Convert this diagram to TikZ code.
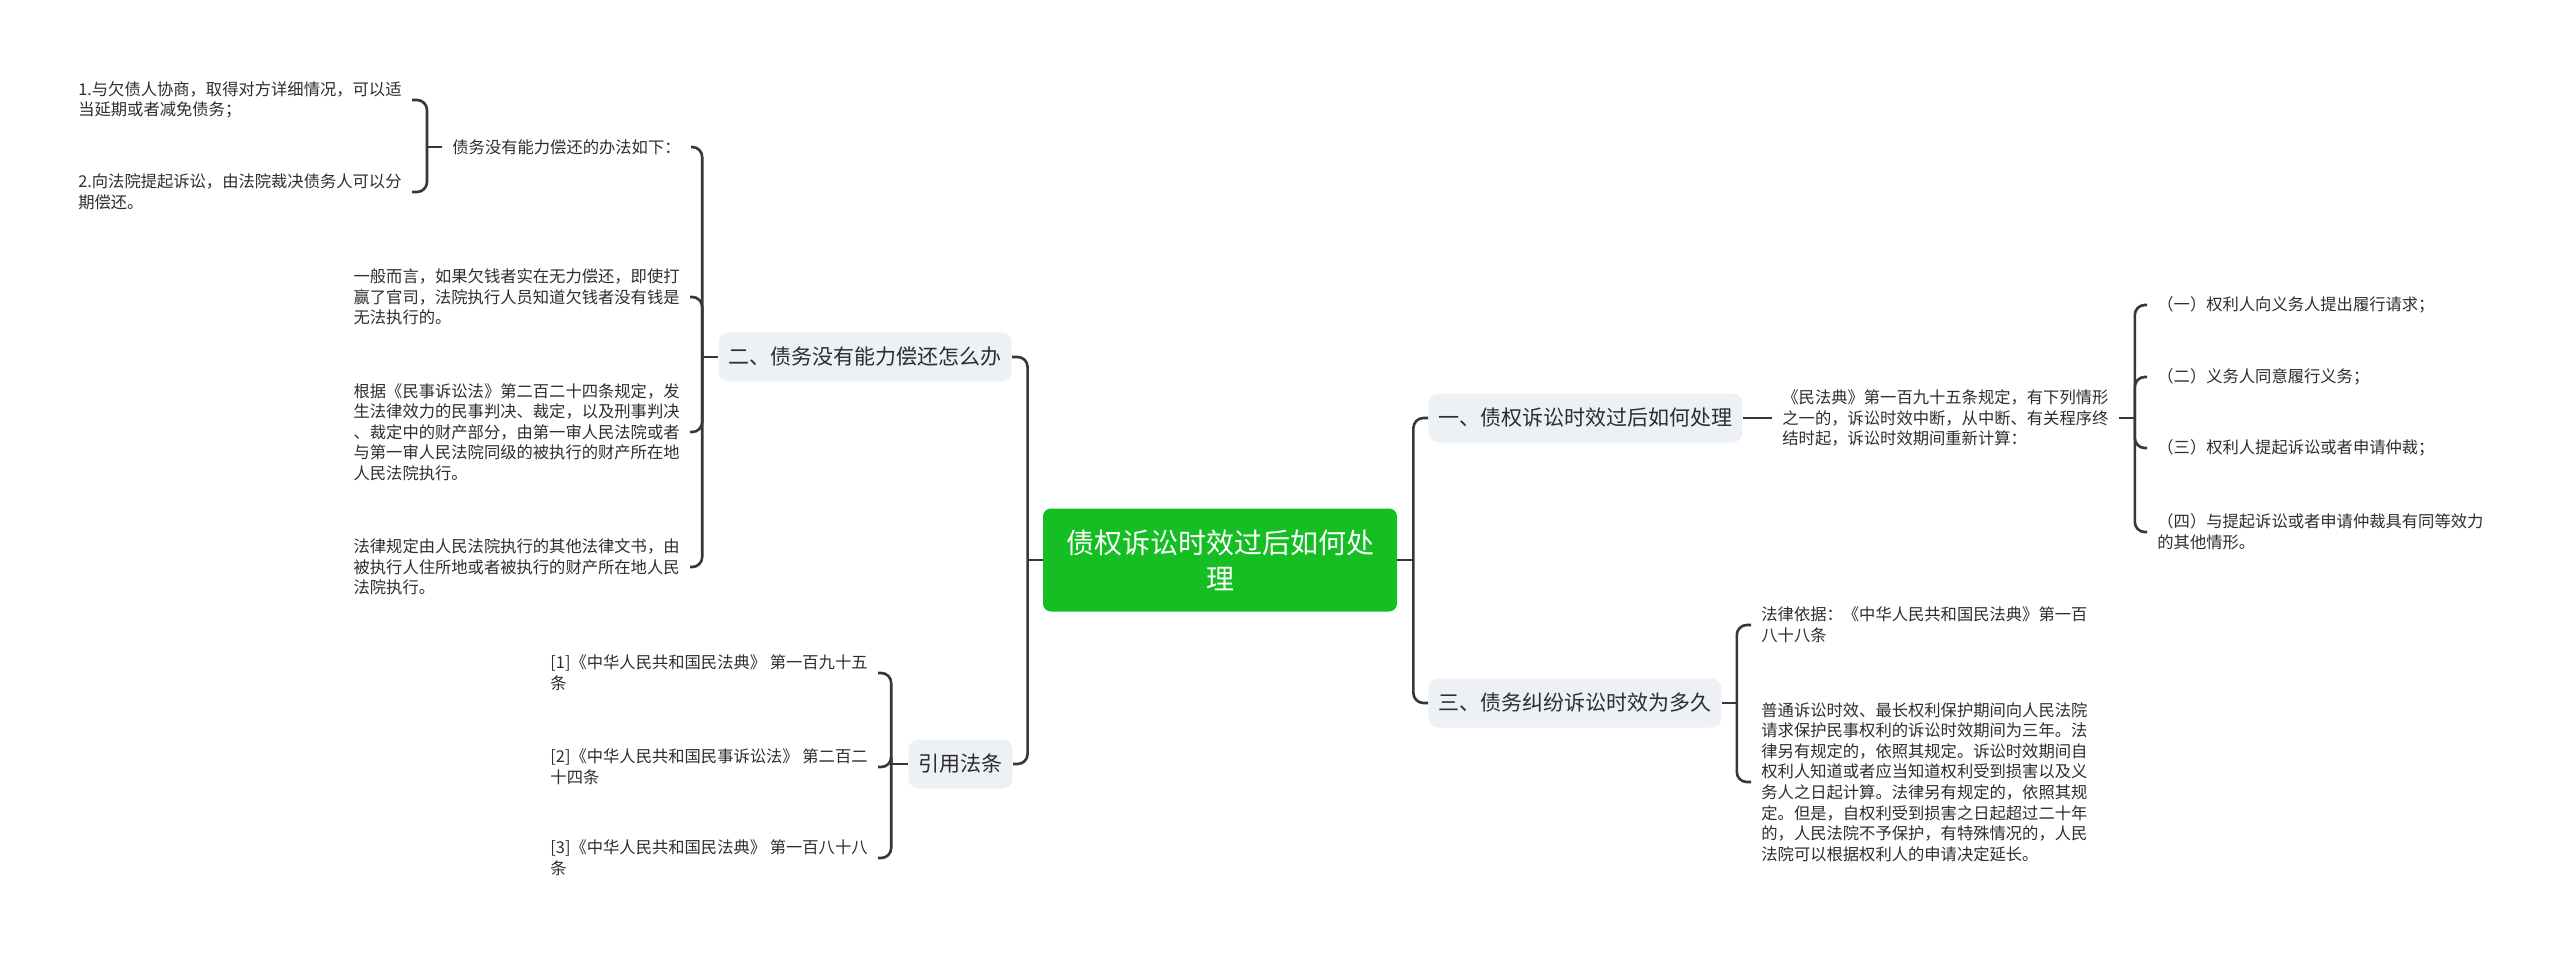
\documentclass[tikz,border=0pt]{standalone}
\usepackage{fontspec}
\setmainfont{Noto Sans CJK SC}
\usepackage{tikz}
\usetikzlibrary{positioning}
\definecolor{rootgreen}{RGB}{20,190,35}
\definecolor{topicgray}{RGB}{237,240,244}
\definecolor{linkgray}{RGB}{55,55,55}
\definecolor{inkgray}{RGB}{45,45,45}
\tikzset{
  rootbox/.style={rectangle, rounded corners=4pt, fill=rootgreen, text=white, minimum width=177pt,
                  minimum height=51.5pt, align=center, font=\fontsize{14}{18}\selectfont},
  topic/.style={rectangle, rounded corners=5pt, fill=topicgray, text=inkgray, minimum height=24.5pt,
                inner xsep=5pt, font=\fontsize{10.5}{13}\selectfont},
  leaf/.style={inner xsep=5pt, inner ysep=2pt, align=left, text=inkgray, font=\fontsize{8.15}{10.3}\selectfont},
  link/.style={draw=linkgray, line width=1.3pt, rounded corners=5pt}
}

\begin{document}
\begin{tikzpicture}[x=0.5pt, y=-0.5pt]
\useasboundingbox (0,0) rectangle (2560,957);

\node (root) [rootbox] at (1220,560) {债权诉讼时效过后如何处\\理};
\node (one) [topic, anchor=west] at (1428,418) {一、债权诉讼时效过后如何处理};
\node (two) [topic, anchor=east] at (1012,357) {二、债务没有能力偿还怎么办};
\node (three) [topic, anchor=west] at (1428,703) {三、债务纠纷诉讼时效为多久};
\node (cite) [topic, anchor=east] at (1013,764) {引用法条};

% right side
\node (oneA) [leaf, anchor=west] at (1772,418) {《民法典》第一百九十五条规定，有下列情形\\之一的，诉讼时效中断，从中断、有关程序终\\结时起，诉讼时效期间重新计算：};
\node (oneA1) [leaf, anchor=west] at (2147,305) {（一）权利人向义务人提出履行请求；};
\node (oneA2) [leaf, anchor=west] at (2147,377) {（二）义务人同意履行义务；};
\node (oneA3) [leaf, anchor=west] at (2147,448) {（三）权利人提起诉讼或者申请仲裁；};
\node (oneA4) [leaf, anchor=west] at (2147,532) {（四）与提起诉讼或者申请仲裁具有同等效力\\的其他情形。};
\node (threeA) [leaf, anchor=west] at (1751,625) {法律依据：《中华人民共和国民法典》第一百\\八十八条};
\node (threeB) [leaf, anchor=west] at (1751,782) {普通诉讼时效、最长权利保护期间向人民法院\\请求保护民事权利的诉讼时效期间为三年。法\\律另有规定的，依照其规定。诉讼时效期间自\\权利人知道或者应当知道权利受到损害以及义\\务人之日起计算。法律另有规定的，依照其规\\定。但是，自权利受到损害之日起超过二十年\\的，人民法院不予保护，有特殊情况的，人民\\法院可以根据权利人的申请决定延长。};

% left side
\node (twoA) [leaf, anchor=west] at (442,147) {债务没有能力偿还的办法如下：};
\node (twoA1) [leaf, anchor=east] at (412,100) {1.与欠债人协商，取得对方详细情况，可以适\\当延期或者减免债务；};
\node (twoA2) [leaf, anchor=east] at (412,192) {2.向法院提起诉讼，由法院裁决债务人可以分\\期偿还。};
\node (twoB) [leaf, anchor=east] at (690,297) {一般而言，如果欠钱者实在无力偿还，即使打\\赢了官司，法院执行人员知道欠钱者没有钱是\\无法执行的。};
\node (twoC) [leaf, anchor=east] at (690,432) {根据《民事诉讼法》第二百二十四条规定，发\\生法律效力的民事判决、裁定，以及刑事判决\\、裁定中的财产部分，由第一审人民法院或者\\与第一审人民法院同级的被执行的财产所在地\\人民法院执行。};
\node (twoD) [leaf, anchor=east] at (690,567) {法律规定由人民法院执行的其他法律文书，由\\被执行人住所地或者被执行的财产所在地人民\\法院执行。};
\node (cite1) [leaf, anchor=east] at (878,673) {[1]《中华人民共和国民法典》 第一百九十五\\条};
\node (cite2) [leaf, anchor=east] at (878,767) {[2]《中华人民共和国民事诉讼法》 第二百二\\十四条};
\node (cite3) [leaf, anchor=east] at (878,858) {[3]《中华人民共和国民法典》 第一百八十八\\条};

% branch points
\coordinate [left=7.5pt of root.west] (lhub);
\coordinate [right=8pt of root.east] (rhub);
\coordinate [left=8pt of two.west] (hubTwo);
\coordinate [left=7.5pt of twoA.west] (hubTwoA);
\coordinate [right=8pt of oneA.east] (hubOneA);
\coordinate [right=7.5pt of three.east] (hubThree);
\coordinate [left=8.5pt of cite.west] (hubCite);

% connectors
\draw [link] (root.west) -- (lhub);
\draw [link] (root.east) -- (rhub);
\foreach \n in {two,cite} \draw [link] (lhub) |- (\n.east);
\foreach \n in {one,three} \draw [link] (rhub) |- (\n.west);
\draw [link] (one.east) -- (oneA.west);
\draw [link] (oneA.east) -- (hubOneA);
\foreach \n in {oneA1,oneA2,oneA3,oneA4} \draw [link] (hubOneA) |- (\n.west);
\draw [link] (three.east) -- (hubThree);
\foreach \n in {threeA,threeB} \draw [link] (hubThree) |- (\n.west);
\draw [link] (two.west) -- (hubTwo);
\foreach \n in {twoA,twoB,twoC,twoD} \draw [link] (hubTwo) |- (\n.east);
\draw [link] (twoA.west) -- (hubTwoA);
\foreach \n in {twoA1,twoA2} \draw [link] (hubTwoA) |- (\n.east);
\draw [link] (cite.west) -- (hubCite);
\foreach \n in {cite1,cite2,cite3} \draw [link] (hubCite) |- (\n.east);
\end{tikzpicture}
\end{document}
